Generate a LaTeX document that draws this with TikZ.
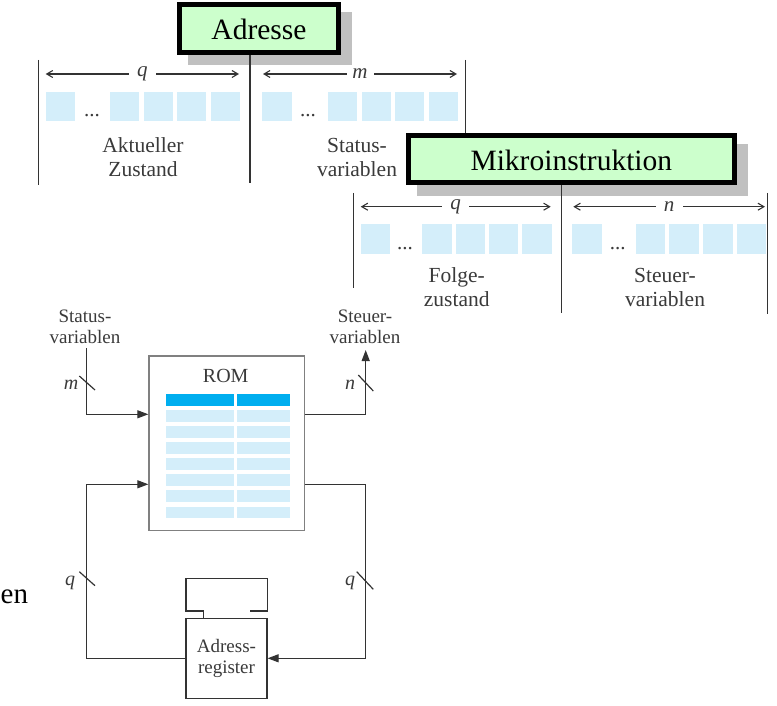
\documentclass[tikz,border=0pt]{standalone}
\usepackage{fontspec}
\setmainfont{Liberation Serif}
\usetikzlibrary{arrows.meta}
\definecolor{titlegreen}{HTML}{CCFFCC}
\definecolor{shadowgray}{HTML}{C0C0C0}
\definecolor{cellblue}{HTML}{D4EEFA}
\definecolor{rowdark}{HTML}{00AEEF}
\definecolor{inkgray}{HTML}{333333}
\definecolor{txtgray}{HTML}{3A3A3A}
\definecolor{romgray}{HTML}{808080}
\tikzset{
  titlebox/.style={draw=black, line width=5pt, fill=titlegreen, inner sep=0pt,
    text height=23pt, text depth=0pt, font=\fontsize{29.5}{32}\selectfont},
  shadowbox/.style={fill=shadowgray, inner sep=0pt},
  thinline/.style={draw=inkgray, line width=1.2pt},
  dimline/.style={draw=inkgray, line width=1.1pt, {Straight Barb[length=6pt,width=7pt]}-{Straight Barb[length=6pt,width=7pt]}},
  dimlabel/.style={fill=white, inner sep=0pt, minimum width=27pt, text=txtgray, font=\fontsize{21}{24}\selectfont\itshape},
  cell/.style={fill=cellblue},
  biglabel/.style={align=center, text=txtgray, font=\fontsize{21.5}{24}\selectfont, inner sep=0pt},
  smalllabel/.style={align=center, text=txtgray, font=\fontsize{19}{21}\selectfont, inner sep=0pt},
  dots/.style={text=txtgray, font=\fontsize{21}{24}\selectfont, inner sep=0pt},
  flow/.style={draw=inkgray, line width=1.2pt},
  flowarrow/.style={flow, -{Triangle[length=11pt,width=8pt]}},
  buslabel/.style={text=txtgray, font=\fontsize{20}{22}\selectfont\itshape, inner sep=0pt},
  rombox/.style={draw=romgray, line width=1.3pt, fill=white, inner sep=0pt},
  regbox/.style={draw=inkgray, line width=1.2pt, fill=white, inner sep=0pt, align=center,
    text=txtgray, font=\fontsize{19}{21}\selectfont}
}
\begin{document}
\begin{tikzpicture}[x=1pt,y=-1pt]
\useasboundingbox (0,0) rectangle (777,706);
\clip (0,0) rectangle (777,706);

% ---------- upper word: Adresse ----------
\draw[thinline] (38.5,60) -- (38.5,185);
\draw[thinline] (465.7,60) -- (465.7,185);
\node[shadowbox, minimum width=163.4pt, minimum height=53.3pt] (adrshadow) at (270,38.35) {};
\node[titlebox, minimum width=158.4pt, minimum height=48.3pt] (adr) at (259,28.35) {Adresse};
\draw[thinline] (adr.south -| 250,0) -- (250,183);

\draw[dimline] (45.7,74) -- (239,74) node[midway, dimlabel] (lq1) {q};
\draw[dimline] (263,74) -- (457,74) node[midway, dimlabel] (lm1) {m};

\foreach \x in {45.7,110,143.6,177.1,210.7,262.3,327.7,361.7,395,429}
  \fill[cell] (\x,91.7) rectangle ++(29.3,29.3);
\node[dots, anchor=base] (d1) at (92,117) {...};
\node[dots, anchor=base] (d2) at (308,117) {...};

\node[biglabel, anchor=base] (akt) at (143,176.7) {Aktueller\\Zustand};
\node[biglabel, anchor=base] (stv1) at (357,176.7) {Status-\\variablen};

% ---------- lower word: Mikroinstruktion ----------
\node[shadowbox, minimum width=330.7pt, minimum height=52.3pt] (mikshadow) at (582.35,169.85) {};
\node[titlebox, minimum width=325.7pt, minimum height=47.3pt] (mik) at (571.35,158.85) {Mikroinstruktion};
\draw[thinline] (353.3,193) -- (353.3,288);
\draw[thinline] (mik.south -| 561.7,0) -- (561.7,313);
\draw[thinline] (767.7,193) -- (767.7,314);

\draw[dimline] (360.7,206.7) -- (550.7,206.7) node[midway, dimlabel] (lq2) {q};
\draw[dimline] (573.3,206.7) -- (765,206.7) node[midway, dimlabel] (ln2) {n};

\foreach \x in {360.7,422.3,456,489,522.3,572.3,636,669.3,703.3,736.7}
  \fill[cell] (\x,224.3) rectangle ++(29.3,29.3);
\node[dots, anchor=base] (d3) at (405,249.6) {...};
\node[dots, anchor=base] (d4) at (617.7,249.6) {...};

\node[biglabel, anchor=base] (flg) at (456.7,306.7) {Folge-\\zustand};
\node[biglabel, anchor=base] (stu1) at (665,306.7) {Steuer-\\variablen};

% ---------- block diagram ----------
\node[smalllabel, anchor=base] (stv2) at (85,343.3) {Status-\\variablen};
\node[smalllabel, anchor=base] (stu2) at (365,343.3) {Steuer-\\variablen};

\node[rombox, minimum width=155.3pt, minimum height=174.7pt] (rom) at (226.65,443.35) {};
\node[text=txtgray, font=\fontsize{20}{22}\selectfont, inner sep=0pt, anchor=base] (romt) at (225.7,382.7) {ROM};
\foreach \y [count=\i] in {394.3,410,426,442.3,458.3,474.3,490.3,506.7} {
  \ifnum\i=1
    \fill[rowdark] (165.7,\y) rectangle (234.3,\y+11.5);
    \fill[rowdark] (237,\y) rectangle (290,\y+11.5);
  \else
    \fill[cellblue] (165.7,\y) rectangle (234.3,\y+11.5);
    \fill[cellblue] (237,\y) rectangle (290,\y+11.5);
  \fi
}

\node[regbox, minimum width=81pt, minimum height=80pt] (areg) at (226.5,658.3) {Adress-\\register};

\coordinate (sin) at (86.7,348.3);
\coordinate (sout) at (365.7,350);
\draw[flowarrow] (sin) |- (rom.west |- 0,414.3);
\draw[flowarrow] (rom.east |- 0,414.3) -| (sout);
\draw[flowarrow] (rom.east |- 0,484.3) -| (365.7,560) |- (areg.east);
\draw[flowarrow] (areg.west) -| (86.7,530) |- (rom.west |- 0,484.3);

% bus slashes
\draw[flow] (79.3,376) -- (95,390);
\draw[flow] (358.3,375) -- (373.3,391);
\draw[flow] (79.3,571.7) -- (95,585.7);
\draw[flow] (356.7,571.7) -- (373.3,589.3);
\node[buslabel, anchor=base] (bm) at (71,389) {m};
\node[buslabel, anchor=base] (bn) at (350,389) {n};
\node[buslabel, anchor=base] (bq1) at (70,585) {q};
\node[buslabel, anchor=base] (bq2) at (350,585) {q};

% clock loop on the address register
\draw[flow] (areg.north -| 203.3,0) -- (203.3,611) -- (186,611) -- (186,578.3)
  -- (267.3,578.3) -- (267.3,611) -- (250,611);

% text fragment at the left edge
\node[anchor=base west, inner sep=0pt, font=\fontsize{29}{32}\selectfont] (frag) at (0.5,603) {en};
\end{tikzpicture}
\end{document}
